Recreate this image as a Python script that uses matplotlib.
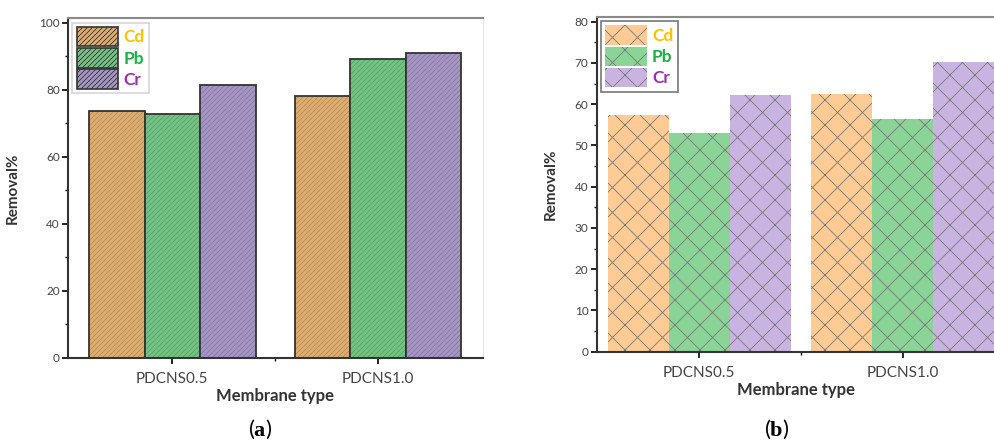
import numpy as np
import matplotlib
matplotlib.use("Agg")
import matplotlib.pyplot as plt
from matplotlib.backend_bases import GraphicsContextBase
from matplotlib.patches import Patch
from matplotlib.ticker import MultipleLocator, FixedLocator

# data
membranes = ["PDCNS0.5", "PDCNS1.0"]
metals = ["Cd", "Pb", "Cr"]
removal_a = {"Cd": [73.5, 78.2],
             "Pb": [72.8, 89.3],
             "Cr": [81.3, 91.0]}
removal_b = {"Cd": [57.4, 62.4],
             "Pb": [53.1, 56.4],
             "Cr": [62.3, 70.2]}

label_colors = {"Cd": "#FFC000", "Pb": "#1DB046", "Cr": "#9B2FAE"}
fill_a = {"Cd": "#DDAE72", "Pb": "#74C384", "Cr": "#A596C3"}
hatch_a = {"Cd": "#B88C55", "Pb": "#56A466", "Cr": "#8778A6"}
fill_b = {"Cd": "#FDCB93", "Pb": "#8BD497", "Cr": "#C9B4E1"}

# slightly denser hatch lines than the default 6 per inch
_hatch_path = GraphicsContextBase.get_hatch_path
GraphicsContextBase.get_hatch_path = lambda self, density=8.0: _hatch_path(self, density)

plt.rcParams['font.family'] = ['Lato', 'DejaVu Sans']
plt.rcParams['mathtext.fontset'] = 'custom'
plt.rcParams['mathtext.rm'] = 'Liberation Serif'
plt.rcParams['mathtext.bf'] = 'Liberation Serif:bold'

fig = plt.figure(figsize=(9.95, 4.43), dpi=100)
ax1 = fig.add_axes([0.0683, 0.1925, 0.4171, 0.7662])
ax2 = fig.add_axes([0.5997, 0.2061, 0.4003, 0.7562])

x = np.arange(len(membranes))


def style_axes(ax, ymax, major, minor):
    ax.set_ylim(0, ymax)
    ax.yaxis.set_major_locator(MultipleLocator(major))
    ax.yaxis.set_minor_locator(MultipleLocator(minor))
    ax.set_xticks(x)
    ax.set_xticklabels(membranes, fontsize=11, color="#444444")
    ax.xaxis.set_minor_locator(FixedLocator([0.5]))
    ax.tick_params(axis="y", which="major", length=4, width=1.2, labelsize=8.5,
                   labelcolor="#444444", pad=2)
    ax.tick_params(axis="y", which="minor", length=2.5, width=1)
    ax.tick_params(axis="x", which="major", length=4, width=1.2, pad=6)
    ax.tick_params(axis="x", which="minor", length=2.5, width=1)
    for s in ["left", "bottom"]:
        ax.spines[s].set_color("#333333")
        ax.spines[s].set_linewidth(1.5)
    ax.spines["top"].set_color("#8a8a8a")
    ax.spines["top"].set_linewidth(1.5)
    ax.spines["right"].set_color("#e2e2e2")
    ax.spines["right"].set_linewidth(0.8)
    ax.set_ylabel("Removal%", fontsize=11, fontweight="bold", color="#333333")
    ax.set_xlabel("Membrane type", fontsize=12, fontweight="bold", color="#333333",
                  labelpad=2)


def add_legend(ax, handles, edge):
    leg = ax.legend(handles, metals, loc="upper left", bbox_to_anchor=(0.004, 0.995),
                    fancybox=False, edgecolor=edge, handlelength=2.4,
                    handleheight=1.35, handletextpad=0.3, labelspacing=0.1,
                    borderpad=0.25, borderaxespad=0.15,
                    prop={"weight": "bold", "size": 12.5})
    leg.get_frame().set_linewidth(1.2)
    for t, m in zip(leg.get_texts(), metals):
        t.set_color(label_colors[m])
    return leg


# (a)
plt.rcParams['hatch.linewidth'] = 0.6
w = 0.27
handles = []
for i, m in enumerate(metals):
    pos = x + (i - 1) * w
    ax1.bar(pos, removal_a[m], w, color=fill_a[m], edgecolor=hatch_a[m],
            linewidth=0, hatch="/////")
    ax1.bar(pos, removal_a[m], w, facecolor="none", edgecolor="#333333",
            linewidth=1.3)
    handles.append(Patch(facecolor=fill_a[m], edgecolor=hatch_a[m], hatch="/////",
                         linewidth=0))
ax1.set_xlim(-0.507, 1.51)
style_axes(ax1, 101.3, 20, 10)
ax1.yaxis.labelpad = 14
leg = add_legend(ax1, handles, "#cccccc")
for p in leg.get_patches():
    p.set_edgecolor("#333333")
    p.set_linewidth(1.2)

# (b)
w = 0.3
handles = []
for i, m in enumerate(metals):
    pos = x + (i - 1) * w
    ax2.bar(pos, removal_b[m], w, color=fill_b[m], edgecolor="#7a7a7a",
            linewidth=0, hatch="x")
    handles.append(Patch(facecolor=fill_b[m], edgecolor="#7a7a7a", hatch="x",
                         linewidth=0))
ax2.set_xlim(-0.504, 1.454)
style_axes(ax2, 81.2, 10, 5)
ax2.yaxis.labelpad = 12
ax2.spines["right"].set_visible(False)
add_legend(ax2, handles, "#555555")

fig.text(0.2613, 0.03, r"($\mathbf{a}$)", ha="center", va="center", fontsize=16)
fig.text(0.7806, 0.03, r"($\mathbf{b}$)", ha="center", va="center", fontsize=16)

fig.savefig("out.png", dpi=100)
